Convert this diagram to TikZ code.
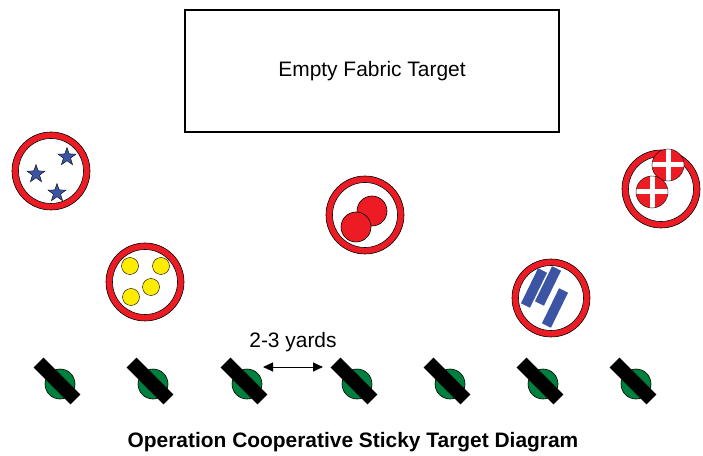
\documentclass[tikz,border=0pt]{standalone}
\usepackage{fontspec}
\setmainfont{Liberation Sans}
\usetikzlibrary{shapes.geometric,positioning,calc,arrows.meta}
\definecolor{ringred}{RGB}{237,28,36}
\definecolor{starblue}{RGB}{59,84,164}
\definecolor{dotyellow}{RGB}{255,236,0}
\definecolor{padgreen}{RGB}{0,128,62}
\tikzset{
  ring/.style={circle, draw=black, fill=ringred, line width=0.6pt, minimum size=78bp, inner sep=0pt},
  hole/.style={circle, draw=black, fill=white, line width=0.6pt, minimum size=65bp, inner sep=0pt},
  bluestar/.style={star, star points=5, star point ratio=2.5, draw=black, line width=0.4pt, fill=starblue, minimum size=19bp, inner sep=0pt},
  yellowdot/.style={circle, draw=black, line width=0.4pt, fill=dotyellow, minimum size=17bp, inner sep=0pt},
  reddot/.style={circle, draw=black, line width=0.6pt, fill=ringred, minimum size=30bp, inner sep=0pt},
  bluebar/.style={rectangle, fill=starblue, minimum width=39bp, minimum height=10bp, inner sep=0pt, rotate=64},
  pad/.style={circle, draw=black, line width=0.6pt, fill=padgreen, minimum size=30bp, inner sep=0pt},
  padbar/.style={rectangle, fill=black, minimum width=52bp, minimum height=14bp, inner sep=0pt, rotate=-45}
}
\begin{document}
\begin{tikzpicture}[x=1bp,y=-1bp,font=\fontsize{21}{25}\selectfont]
    \useasboundingbox (0,0) rectangle (703,456);
    % Target
    \node [draw, line width=1.2bp, minimum width=374bp, minimum height=122bp] (target) at (372,71) {Empty Fabric Target};
    % Stars
    \node [ring] (stars) at (51,171) {}; \node [hole] at (stars) {};
    \node [bluestar] (s1) at (67,157) {};
    \node [bluestar] (s2) at (36,174) {};
    \node [bluestar] (s3) at (57,193) {};
    % Dots
    \node [ring] (dots) at (145,282) {}; \node [hole] at (dots) {};
    \node [yellowdot] (d1) at (130,266) {};
    \node [yellowdot] (d2) at (161,266) {};
    \node [yellowdot] (d3) at (151,287) {};
    \node [yellowdot] (d4) at (131,297) {};
    % Red balls
    \node [ring] (balls) at (365,215) {}; \node [hole] at (balls) {};
    \node [reddot] (b1) at (372,211) {};
    \node [reddot] (b2) at (356,227) {};
    % Blue bars
    \node [ring] (bars) at (551,298) {}; \node [hole] at (bars) {};
    \node [bluebar] (r1) at (534,288) {};
    \node [bluebar] (r2) at (548,286) {};
    \node [bluebar] (r3) at (555,308) {};
    % Crosses
    \node [ring] (crosses) at (661,189) {}; \node [hole] at (crosses) {};
    \foreach \cx/\cy in {668/165, 652/192} {
      \begin{scope}
        \clip (\cx,\cy) circle (16);
        \fill [ringred] (\cx,\cy) circle (16);
        \fill [white] (\cx-2.5,\cy-16) rectangle (\cx+2.5,\cy+16);
        \fill [white] (\cx-16,\cy-2.5) rectangle (\cx+16,\cy+2.5);
      \end{scope}
      \draw [line width=0.4pt] (\cx,\cy) circle (16);
    }
    % Players
    \foreach \x [count=\i] in {60,153,247,357,450,543,636} {
      \node [pad] (p\i) at (\x,384) {};
      \node [padbar] at ($(p\i)+(-3,-3)$) {};
    }
    % Spacing
    \coordinate (gapL) at ($(p3)+(16,-17)$);
    \coordinate (gapR) at ($(p4)+(-34,-17)$);
    \draw [{Triangle[length=10bp,width=9bp]}-{Triangle[length=10bp,width=9bp]}, line width=1bp] (gapL) -- (gapR);
    \node (gaplabel) at (293,342) {2-3 yards};
    % Title
    \node [font=\fontsize{21}{25}\selectfont\bfseries] (title) at (353,442) {Operation Cooperative Sticky Target Diagram};
\end{tikzpicture}
\end{document}
